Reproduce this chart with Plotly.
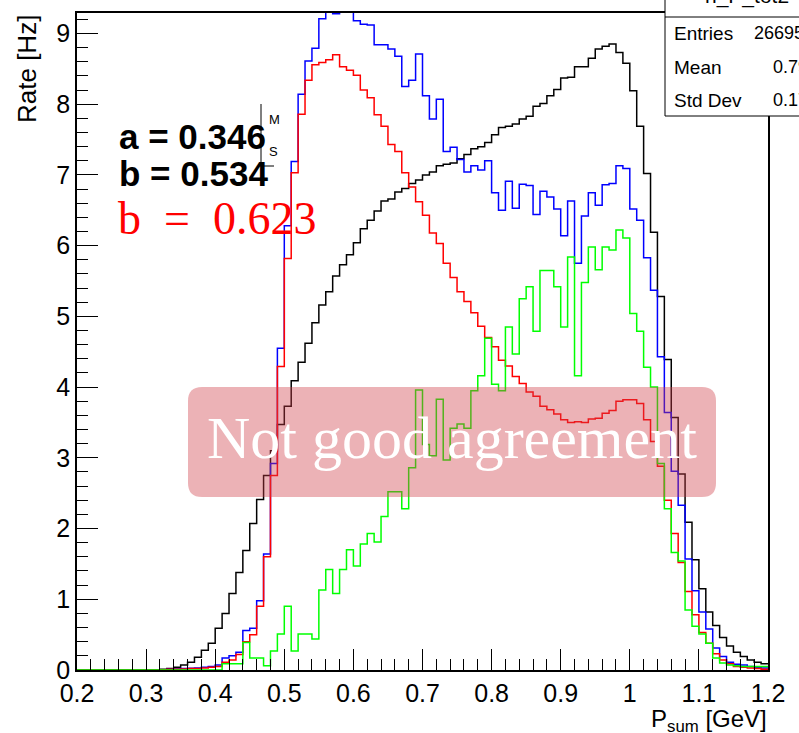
import plotly.graph_objects as go

# Binning: 100 bins of 0.01 GeV from 0.2 to 1.2 GeV
edges = [round(0.20 + 0.01 * i, 2) for i in range(101)]

# Rate per bin [Hz]
rate_total = [
    0, 0, 0, 0, 0, 0, 0, 0, 0, 0, 0,
    0.005, 0.01, 0.02, 0.04, 0.07, 0.11, 0.18, 0.28, 0.38, 0.59,
    0.80, 1.08, 1.38, 1.69, 2.07, 2.41, 2.75, 3.10, 3.47, 3.73,
    4.09, 4.35, 4.62, 4.91, 5.16, 5.35, 5.57, 5.73, 5.87, 6.04,
    6.24, 6.36, 6.49, 6.63, 6.66, 6.76, 6.81, 6.88, 6.93, 7.00,
    7.04, 7.13, 7.15, 7.17, 7.23, 7.29, 7.37, 7.40, 7.46, 7.57,
    7.67, 7.69, 7.72, 7.79, 7.83, 7.97, 8.01, 8.12, 8.21, 8.37,
    8.38, 8.53, 8.53, 8.65, 8.78, 8.82, 8.85, 8.73, 8.58, 8.19,
    7.69, 7.02, 6.19, 5.28, 4.39, 3.57, 2.77, 2.09, 1.56, 1.15,
    0.82, 0.63, 0.46, 0.34, 0.25, 0.19, 0.14, 0.11, 0.09,
]

rate_blue = [
    0, 0, 0, 0, 0, 0, 0, 0, 0, 0, 0, 0,
    0.005, 0.01, 0.015, 0.02, 0.025, 0.03, 0.04, 0.05, 0.07,
    0.17, 0.20, 0.25, 0.56, 0.59, 0.98, 1.64, 2.92, 4.55, 6.28,
    7.19, 8.14, 8.61, 8.79, 9.21, 9.33, 9.28, 9.33, 9.32, 9.18,
    9.13, 9.12, 8.84, 8.84, 8.78, 8.68, 8.25, 8.34, 8.71, 8.12,
    7.79, 8.07, 7.33, 7.39, 7.22, 7.04, 7.13, 7.07, 7.20, 6.75,
    6.50, 6.91, 6.53, 6.87, 6.85, 6.44, 6.77, 6.69, 6.52, 6.14,
    6.63, 5.75, 6.42, 6.75, 6.57, 6.86, 6.88, 7.13, 7.09, 6.52,
    6.36, 5.83, 5.37, 4.43, 3.64, 2.81, 2.33, 1.57, 1.12, 0.82,
    0.58, 0.31, 0.19, 0.11, 0.08, 0.07, 0.05, 0.04, 0.03,
]

rate_red = [
    0, 0, 0, 0, 0, 0, 0, 0, 0, 0, 0, 0,
    0.005, 0.01, 0.01, 0.015, 0.02, 0.02, 0.03, 0.04, 0.05,
    0.11, 0.14, 0.22, 0.40, 0.50, 0.90, 1.60, 2.75, 4.29, 5.82,
    7.03, 7.86, 8.34, 8.56, 8.59, 8.63, 8.70, 8.53, 8.48, 8.41,
    8.20, 8.09, 7.85, 7.69, 7.43, 7.33, 7.03, 6.83, 6.62, 6.43,
    6.18, 6.03, 5.75, 5.55, 5.35, 5.21, 5.05, 4.86, 4.70, 4.57,
    4.38, 4.30, 4.15, 4.05, 3.93, 3.87, 3.73, 3.68, 3.62, 3.54,
    3.50, 3.51, 3.50, 3.55, 3.56, 3.63, 3.67, 3.80, 3.82, 3.82,
    3.77, 3.54, 3.23, 2.88, 2.40, 1.93, 1.52, 1.11, 0.78, 0.53,
    0.38, 0.23, 0.14, 0.09, 0.05, 0.04, 0.03, 0.02, 0.01,
]

rate_green = [
    0, 0, 0, 0, 0, 0, 0, 0, 0, 0, 0,
    0, 0, 0, 0, 0, 0, 0, 0, 0, 0,
    0.09, 0.09, 0.09, 0.39, 0.17, 0.17, 0.06, 0.27, 0.51, 0.90,
    0.27, 0.51, 0.51, 0.44, 1.13, 1.42, 1.08, 1.42, 1.70, 1.47,
    1.78, 1.93, 1.81, 2.17, 2.52, 2.52, 2.28, 2.86, 3.96, 3.19,
    3.03, 3.83, 2.97, 3.42, 3.48, 3.42, 3.95, 4.16, 4.69, 4.04,
    3.95, 4.85, 4.47, 5.25, 5.42, 4.79, 5.65, 5.65, 5.42, 4.85,
    5.84, 4.16, 5.48, 5.98, 5.66, 5.98, 5.94, 6.22, 6.11, 5.04,
    4.79, 4.28, 4.00, 2.92, 2.28, 1.66, 1.54, 0.85, 0.62, 0.51,
    0.38, 0.17, 0.10, 0.07, 0.06, 0.05, 0.05, 0.05, 0.05,
]

series = [
    (rate_total, "#000000"),
    (rate_blue, "#0000ff"),
    (rate_red, "#ff0000"),
    (rate_green, "#00ff00"),
]

W, H = 799, 733
L, R, T, B = 77, 31, 13, 63
PW, PH = W - L - R, H - T - B


def px(x):
    return (x - L) / PW


def py(y):
    return (H - B - y) / PH


fig = go.Figure()
for vals, color in series:
    fig.add_trace(go.Scatter(
        x=edges, y=vals + [vals[-1]], mode="lines",
        line=dict(color=color, width=1.5, shape="hv"),
        hoverinfo="skip", showlegend=False,
    ))

axis_common = dict(
    ticks="inside", ticklen=21, tickwidth=1, tickcolor="black",
    showline=True, linecolor="black", linewidth=1.5, mirror=True,
    showgrid=False, zeroline=False,
    tickfont=dict(family="Liberation Sans, Arial", size=25, color="black"),
)
fig.update_xaxes(range=[0.2, 1.2], tick0=0.2, dtick=0.1,
                 minor=dict(dtick=0.02, ticks="inside", ticklen=11,
                            tickcolor="black", tickwidth=1),
                 **axis_common)
fig.update_yaxes(range=[0, 9.29], tick0=0, dtick=1,
                 minor=dict(dtick=0.2, ticks="inside", ticklen=11,
                            tickcolor="black", tickwidth=1),
                 **axis_common)

shapes = []

# translucent rounded banner
x0, x1, y0, y1, r = 188, 716, 387, 497, 14
path = (
    f"M {px(x0 + r)} {py(y0)} L {px(x1 - r)} {py(y0)} "
    f"Q {px(x1)} {py(y0)} {px(x1)} {py(y0 + r)} "
    f"L {px(x1)} {py(y1 - r)} "
    f"Q {px(x1)} {py(y1)} {px(x1 - r)} {py(y1)} "
    f"L {px(x0 + r)} {py(y1)} "
    f"Q {px(x0)} {py(y1)} {px(x0)} {py(y1 - r)} "
    f"L {px(x0)} {py(y0 + r)} "
    f"Q {px(x0)} {py(y0)} {px(x0 + r)} {py(y0)} Z"
)
shapes.append(dict(type="path", xref="paper", yref="paper", path=path,
                   fillcolor="rgba(207,63,73,0.4)", line=dict(width=0),
                   layer="above"))

# statistics box
shapes.append(dict(type="rect", xref="paper", yref="paper",
                   x0=px(665), x1=px(840), y0=py(116), y1=py(-40),
                   fillcolor="white", line=dict(color="black", width=1),
                   layer="above"))
shapes.append(dict(type="line", xref="paper", yref="paper",
                   x0=px(665), x1=px(840), y0=py(17), y1=py(17),
                   line=dict(color="black", width=1), layer="above"))

# edge of a second, mostly hidden box
shapes.append(dict(type="line", xref="paper", yref="paper",
                   x0=px(261), x1=px(261), y0=py(104), y1=py(166),
                   line=dict(color="black", width=1), layer="above"))
shapes.append(dict(type="line", xref="paper", yref="paper",
                   x0=px(261), x1=px(274), y0=py(166), y1=py(166),
                   line=dict(color="black", width=1), layer="above"))

sans = "Liberation Sans, Arial"
serif = "Liberation Serif, Times New Roman"
annotations = [
    dict(text="Rate [Hz]", x=px(27), y=py(13), xanchor="center", yanchor="top",
         textangle=-90, font=dict(family=sans, size=26, color="black")),
    dict(text="P<sub>sum</sub> [GeV]", x=px(769), y=py(720), xanchor="right",
         yanchor="middle", font=dict(family=sans, size=24, color="black")),
    dict(text="<b>a = 0.346</b>", x=px(117), y=py(136), xanchor="left",
         yanchor="middle", font=dict(family=sans, size=35, color="black")),
    dict(text="<b>b = 0.534</b>", x=px(117), y=py(173), xanchor="left",
         yanchor="middle", font=dict(family=sans, size=35, color="black")),
    dict(text="b\u2002=\u20020.623", x=px(116), y=py(218), xanchor="left",
         yanchor="middle", font=dict(family=serif, size=46, color="#ff0000")),
    dict(text="Not good agreement", x=px(452), y=py(438), xanchor="center",
         yanchor="middle", font=dict(family=serif, size=60, color="white")),
    dict(text="h_P_tot2", x=px(703), y=py(-4), xanchor="left",
         yanchor="middle", font=dict(family=sans, size=21, color="black")),
    dict(text="Entries", x=px(672), y=py(33), xanchor="left",
         yanchor="middle", font=dict(family=sans, size=19, color="black")),
    dict(text="Mean", x=px(672), y=py(67), xanchor="left",
         yanchor="middle", font=dict(family=sans, size=19, color="black")),
    dict(text="Std Dev", x=px(672), y=py(100), xanchor="left",
         yanchor="middle", font=dict(family=sans, size=19, color="black")),
    dict(text="26695", x=px(752), y=py(33), xanchor="left",
         yanchor="middle", font=dict(family=sans, size=18, color="black")),
    dict(text="0.79", x=px(771), y=py(67), xanchor="left",
         yanchor="middle", font=dict(family=sans, size=18, color="black")),
    dict(text="0.17", x=px(771), y=py(100), xanchor="left",
         yanchor="middle", font=dict(family=sans, size=18, color="black")),
    dict(text="M", x=px(267), y=py(119), xanchor="left",
         yanchor="middle", font=dict(family=sans, size=13, color="black")),
    dict(text="S", x=px(267), y=py(151), xanchor="left",
         yanchor="middle", font=dict(family=sans, size=13, color="black")),
]
for a in annotations:
    a.update(xref="paper", yref="paper", showarrow=False)

fig.update_layout(
    width=W, height=H,
    margin=dict(l=L, r=R, t=T, b=B, autoexpand=False),
    paper_bgcolor="white", plot_bgcolor="white",
    font=dict(family=sans, size=24, color="black"),
    showlegend=False,
    shapes=shapes, annotations=annotations,
)

fig.write_html("out.html")
